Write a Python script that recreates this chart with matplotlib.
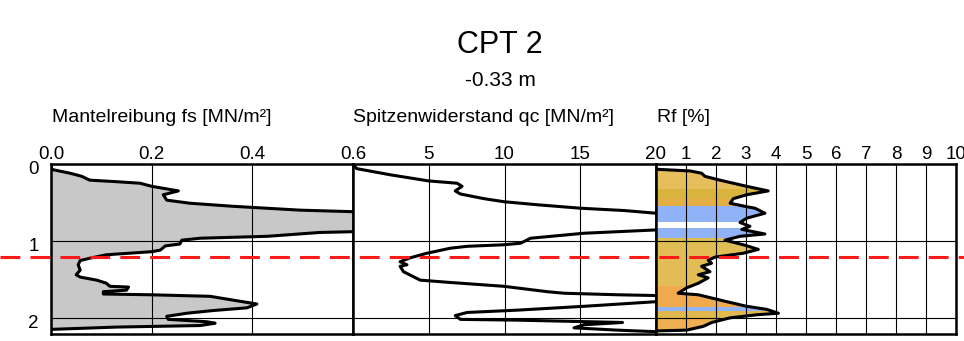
import numpy as np
import matplotlib
matplotlib.use('Agg')
import matplotlib.pyplot as plt
from matplotlib.patches import Polygon
from matplotlib.lines import Line2D
from matplotlib.transforms import blended_transform_factory, ScaledTranslation

plt.rcParams['font.family'] = ['Liberation Sans', 'DejaVu Sans']

# --- data ---
title = 'CPT 2'
subtitle = '-0.33 m'
water_level = 1.21  # depth of dashed red line [m]

fs_depth = [0.00, 0.07, 0.12, 0.16, 0.21, 0.23, 0.25, 0.29, 0.35, 0.40, 0.47, 0.51,
            0.55, 0.60, 0.62, 0.75, 0.88, 0.89, 0.94, 0.965, 0.99, 1.04, 1.065, 1.12,
            1.14, 1.18, 1.225, 1.255, 1.31, 1.38, 1.44, 1.47, 1.51, 1.55, 1.59, 1.60,
            1.64, 1.66, 1.69, 1.70, 1.72, 1.77, 1.82, 1.87, 1.905, 1.94, 1.98, 2.02,
            2.05, 2.07, 2.10, 2.12, 2.15]
fs_value = [0.000, 0.001, 0.038, 0.061, 0.077, 0.130, 0.177, 0.200, 0.253, 0.223, 0.230, 0.276,
            0.362, 0.495, 0.600, 0.650, 0.600, 0.534, 0.430, 0.296, 0.260, 0.256, 0.227, 0.217,
            0.200, 0.110, 0.077, 0.058, 0.054, 0.058, 0.050, 0.058, 0.091, 0.110, 0.117, 0.154,
            0.150, 0.104, 0.104, 0.197, 0.316, 0.362, 0.409, 0.389, 0.322, 0.270, 0.230, 0.233,
            0.309, 0.326, 0.296, 0.130, 0.000]

qc_depth = [0.00, 0.06, 0.14, 0.22, 0.25, 0.29, 0.35, 0.39, 0.45, 0.49, 0.53, 0.575,
            0.605, 0.64, 0.75, 0.857, 0.88, 0.90, 0.965, 1.03, 1.05, 1.07, 1.095, 1.16,
            1.22, 1.27, 1.31, 1.33, 1.40, 1.51, 1.54, 1.59, 1.66, 1.68, 1.70, 1.71,
            1.75, 1.79, 1.85, 1.90, 1.93, 1.97, 2.02, 2.03, 2.06, 2.09, 2.13, 2.16, 2.18]
qc_value = [0.0, 0.24, 2.45, 4.99, 6.87, 7.20, 6.75, 7.09, 8.63, 9.95, 12.17, 15.03,
            17.90, 20.00, 21.5, 20.00, 17.46, 15.25, 11.72, 11.06, 9.95, 7.53, 6.42, 4.88,
            3.77, 3.11, 3.56, 3.11, 3.33, 4.44, 6.42, 9.95, 12.83, 13.93, 17.46, 20.00,
            21.0, 20.00, 15.25, 10.84, 7.53, 6.75, 7.09, 10.84, 17.79, 15.25, 14.59, 17.46, 20.00]

rf_depth = [0.06, 0.07, 0.09, 0.12, 0.16, 0.21, 0.29, 0.35, 0.40, 0.45, 0.51, 0.555,
            0.575, 0.64, 0.705, 0.76, 0.81, 0.85, 0.91, 0.94, 0.99, 1.05, 1.11, 1.16,
            1.21, 1.25, 1.29, 1.33, 1.40, 1.44, 1.48, 1.55, 1.61, 1.68, 1.70, 1.79,
            1.85, 1.89, 1.94, 1.96, 2.00, 2.06, 2.11, 2.16, 2.17]
rf_value = [0.00, 0.08, 1.13, 1.52, 1.63, 2.13, 3.02, 3.74, 3.02, 2.58, 2.47, 3.02,
            3.30, 3.63, 3.02, 2.80, 3.13, 2.86, 3.63, 2.80, 2.30, 2.91, 3.41, 2.91,
            1.97, 1.74, 1.85, 1.52, 1.80, 1.41, 1.74, 1.41, 1.02, 0.74, 1.41, 2.36,
            3.02, 3.69, 4.08, 3.36, 2.47, 1.86, 1.58, 1.02, 0.00]

# soil type bands behind the Rf curve
band_top = [0.00, 0.32, 0.44, 0.54, 0.75, 0.835, 0.96, 1.59, 1.86, 1.905, 2.02]
band_bottom = [0.32, 0.44, 0.54, 0.75, 0.835, 0.96, 1.59, 1.86, 1.905, 2.02, 2.25]
band_color = ['#e6be5c', '#d8b43c', '#e3ae44', '#8fb3f6', '#ffffff', '#8fb3f6',
              '#e2bd55', '#f0a94c', '#8fb3f6', '#e0b84c', '#eeae52']

fs_ticks = [0.0, 0.2, 0.4, 0.6]
fs_labels = ['0.0', '0.2', '0.4', '0.6']
qc_ticks = [5, 10, 15, 20]
rf_ticks = [1, 2, 3, 4, 5, 6, 7, 8, 9, 10]
depth_ticks = [0, 1, 2]

fig = plt.figure(figsize=(9.64, 3.41), dpi=100)
W, H = 964, 341


def make_ax(x0, x1):
    return fig.add_axes([x0 / W, 1 - 334 / H, (x1 - x0) / W, 170 / H])


ax1 = make_ax(51, 353)
ax2 = make_ax(353, 656)
ax3 = make_ax(656, 956)

for ax in (ax1, ax2, ax3):
    ax.set_ylim(2.21, 0)
    ax.xaxis.tick_top()
    ax.tick_params(axis='both', length=0, labelsize=13.5, pad=1)
    ax.set_yticks(depth_ticks)
    ax.grid(True, color='black', lw=0.8, zorder=3)
    ax.set_axisbelow(False)
    for sp in ax.spines.values():
        sp.set_linewidth(1.8)
        sp.set_zorder(6)

# Mantelreibung
ax1.set_xlim(0, 0.6)
ax1.set_xticks(fs_ticks)
ax1.set_xticklabels(fs_labels)
ax1.tick_params(axis='y', pad=9)
# depth labels sit a little below their grid line in the original
shift = ScaledTranslation(0, -2.5 / 72, fig.dpi_scale_trans)
for lab in ax1.get_yticklabels():
    lab.set_transform(lab.get_transform() + shift)
ax1.fill_betweenx(fs_depth, 0, fs_value, color='#c8c8c8', lw=0, zorder=1)
ax1.plot(fs_value, fs_depth, color='black', lw=2.2, zorder=4)

# Spitzenwiderstand
ax2.set_xlim(0, 20)
ax2.set_xticks(qc_ticks)
ax2.set_yticklabels([])
ax2.plot(qc_value, qc_depth, color='black', lw=2.2, zorder=4)

# Rf
ax3.set_xlim(0, 10)
ax3.set_xticks(rf_ticks)
ax3.set_yticklabels([])
poly = Polygon(np.column_stack([rf_value, rf_depth]), closed=True,
               transform=ax3.transData, facecolor='none', edgecolor='none')
ax3.add_patch(poly)
for top, bot, c in zip(band_top, band_bottom, band_color):
    span = ax3.axhspan(top, bot, color=c, lw=0, zorder=1)
    span.set_clip_path(poly)
ax3.plot(rf_value, rf_depth, color='black', lw=2.2, zorder=4)

# headings
fig.text(500 / W, 1 - 53 / H, title, fontsize=22, ha='center', va='baseline')
fig.text(500 / W, 1 - 86 / H, subtitle, fontsize=15, ha='center', va='baseline')
fig.text(52 / W, 1 - 121.5 / H, 'Mantelreibung fs [MN/m²]', fontsize=14, ha='left', va='baseline')
fig.text(353 / W, 1 - 121.5 / H, 'Spitzenwiderstand qc [MN/m²]', fontsize=14, ha='left', va='baseline')
fig.text(657 / W, 1 - 121.5 / H, 'Rf [%]', fontsize=14, ha='left', va='baseline')

# water level across the whole figure
trans = blended_transform_factory(fig.transFigure, ax1.transData)
fig.add_artist(Line2D([0, 1], [water_level, water_level], transform=trans,
                      color='#ff1a1a', lw=2.2, dashes=(6.5, 3.3), zorder=10))

fig.savefig('out.png', dpi=100, facecolor='white')
